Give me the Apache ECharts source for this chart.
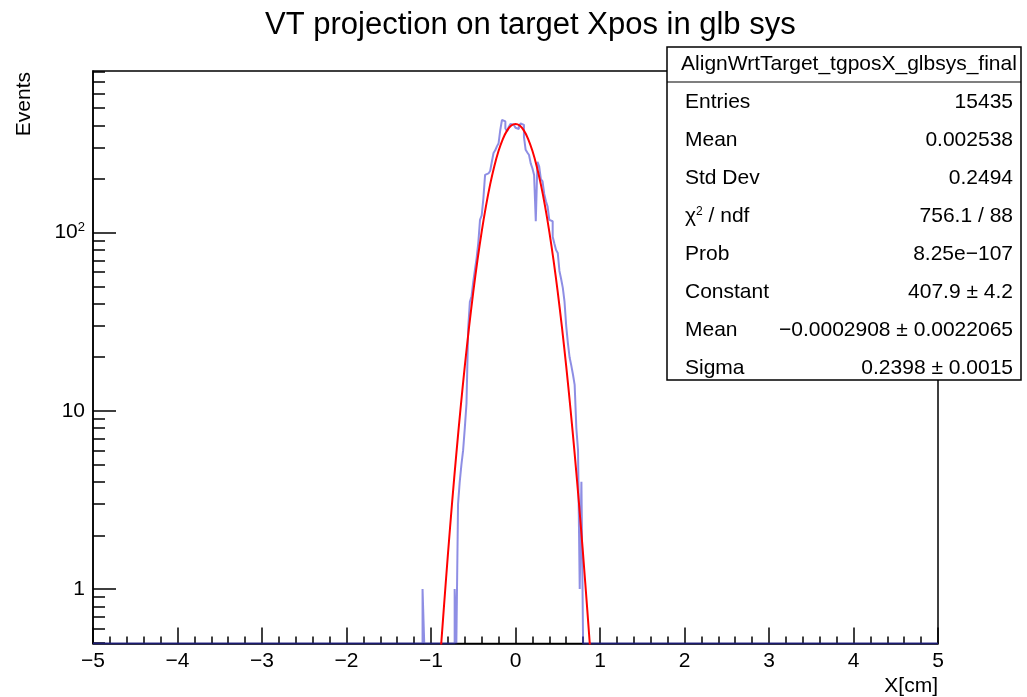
<!DOCTYPE html>
<html>
<head>
<meta charset="utf-8">
<script src="https://cdn.jsdelivr.net/npm/echarts@6/dist/echarts.min.js"></script>
<style>
  html, body { margin: 0; padding: 0; background: #fff; }
  #chart { width: 1027px; height: 697px; }
</style>
</head>
<body>
<div id="chart"></div>
<script>
// histogram: bins of 0.02 starting at -1.10
const binStart = -1.10;
const binWidth = 0.02;
const counts = [
    1, 0, 0, 0, 0, 0, 0, 0, 0, 0, 0, 0, 0, 0, 0, 0, 0, 0, 0,
    1, 0, 3, 4, 5, 6, 8, 11, 29, 41, 44, 53, 62, 72, 88, 118, 125, 156,
    211, 215, 218, 222, 250, 280, 290, 305, 318, 377, 430, 421, 385, 370,
    392, 408, 403, 398, 388, 382, 395, 410, 403, 345, 292, 282, 273, 245,
    230, 211, 116, 250, 236, 200, 194, 165, 150, 140, 118, 116, 95, 87,
    80, 77, 61, 55, 49, 41, 30, 24, 20, 18, 16, 14, 8, 6, 1, 4
];

// gaussian fit curve
const fitX = [
    -0.90, -0.85, -0.80, -0.75, -0.70, -0.65, -0.60, -0.55, -0.50, -0.45,
    -0.40, -0.35, -0.30, -0.25, -0.20, -0.15, -0.10, -0.05, 0.00, 0.05,
    0.10, 0.15, 0.20, 0.25, 0.30, 0.35, 0.40, 0.45, 0.50, 0.55,
    0.60, 0.65, 0.70, 0.75, 0.80, 0.85, 0.90
];
const fitY = [
    0.36, 0.76, 1.56, 3.07, 5.76, 10.35, 17.83, 29.4, 46.4, 70.1,
    101.5, 140.6, 186.6, 237.0, 288.1, 335.5, 374.0, 399.2, 407.9, 399.2,
    374.0, 335.5, 288.1, 237.0, 186.6, 140.6, 101.5, 70.1, 46.4, 29.4,
    17.83, 10.35, 5.76, 3.07, 1.56, 0.76, 0.36
];

const xMin = -5, xMax = 5;
const yMin = 0.495, yMax = 808;
const yMajor = [1, 10, 100];
const yMinor = [0.5, 0.6, 0.7, 0.8, 0.9, 2, 3, 4, 5, 6, 7, 8, 9,
    20, 30, 40, 50, 60, 70, 80, 90, 200, 300, 400, 500, 600, 700, 800];

const statsTitle = "AlignWrtTarget_tgposX_glbsys_final";
const statsLabels = ["Entries", "Mean", "Std Dev", "χ{sup|2} / ndf", "Prob", "Constant", "Mean", "Sigma"];
const statsValues = ["15435", "0.002538", "0.2494", "756.1 / 88", "8.25e\u2212107",
    "407.9 \u00b1 4.2", "\u22120.0002908 \u00b1 0.0022065", "0.2398 \u00b1 0.0015"];

// step outline of the histogram, empty bins sit on the floor of the log axis
const outline = [[xMin, yMin]];
counts.forEach((c, i) => {
    const lo = +(binStart + i * binWidth).toFixed(4);
    const hi = +(lo + binWidth).toFixed(4);
    const v = c > 0 ? c : yMin;
    if (i === 0) outline.push([lo, yMin]);
    outline.push([lo, v], [hi, v]);
    if (i === counts.length - 1) outline.push([hi, yMin]);
});
outline.push([xMax, yMin]);

const fitData = fitX.map((x, i) => [x, fitY[i]]);

const font = "Liberation Sans, Arial, Helvetica, sans-serif";
const minus = s => String(s).replace('-', '\u2212');

const chart = echarts.init(document.getElementById("chart"), null, { renderer: "canvas" });

const statsGraphics = [];
const boxL = 667, boxR = 1021, boxT = 47, boxB = 380;
statsGraphics.push({
    type: "rect", z: 100,
    shape: { x: boxL, y: boxT, width: boxR - boxL, height: boxB - boxT },
    style: { fill: "#fff", stroke: "#000", lineWidth: 1.5 }
});
statsGraphics.push({
    type: "line", z: 101,
    shape: { x1: boxL, y1: 82, x2: boxR, y2: 82 },
    style: { stroke: "#000", lineWidth: 1.2 }
});
statsGraphics.push({
    type: "text", z: 101, x: 849, y: 64,
    style: { text: statsTitle, font: "21px " + font, fill: "#000", align: "center", verticalAlign: "middle" }
});
statsLabels.forEach((lab, i) => {
    const y = 102 + i * 38.1;
    statsGraphics.push({
        type: "text", z: 101, x: 685, y: y,
        style: {
            text: lab, fontSize: 21, fontFamily: font, fill: "#000", align: "left", verticalAlign: "middle",
            rich: { sup: { fontSize: 12, fontFamily: font, padding: [0, 0, 10, 0] } }
        }
    });
    statsGraphics.push({
        type: "text", z: 101, x: 1013, y: y,
        style: { text: statsValues[i], fontSize: 21, fontFamily: font, fill: "#000", align: "right", verticalAlign: "middle" }
    });
});

chart.setOption({
    backgroundColor: "#fff",
    animation: false,
    title: {
        text: "VT projection on target Xpos in glb sys",
        left: 260,
        top: 5,
        textStyle: { fontFamily: font, fontSize: 31, fontWeight: "normal", color: "#000" }
    },
    grid: {
        left: 93, right: 89, top: 71, bottom: 53.5,
        show: true, borderColor: "#000", borderWidth: 1.5, backgroundColor: "transparent"
    },
    xAxis: [
        {
            type: "value", min: xMin, max: xMax, interval: 1,
            axisLine: { onZero: false, lineStyle: { color: "#000", width: 1.5 } },
            axisTick: { inside: true, length: 16, lineStyle: { color: "#000", width: 1.5 } },
            axisLabel: { fontFamily: font, fontSize: 21, color: "#000", margin: 7, formatter: minus },
            splitLine: { show: false }
        },
        {
            type: "value", min: xMin, max: xMax, interval: 0.2, position: "bottom",
            axisLine: { show: false, onZero: false },
            axisTick: { inside: true, length: 7, lineStyle: { color: "#000", width: 1.5 } },
            axisLabel: { show: false },
            splitLine: { show: false }
        }
    ],
    yAxis: [
        {
            type: "log", logBase: 10, min: yMin, max: yMax,
            axisLine: { show: true, onZero: false, lineStyle: { color: "#000", width: 1.5 } },
            axisTick: { inside: true, length: 23, customValues: yMajor, lineStyle: { color: "#000", width: 1.5 } },
            axisLabel: {
                customValues: yMajor, fontFamily: font, fontSize: 21, color: "#000", margin: 8,
                formatter: v => (v === 100 ? "10{sup|2}" : String(v)),
                rich: { sup: { fontSize: 13, fontFamily: font, color: "#000", padding: [0, 0, 10, 0] } }
            },
            splitLine: { show: false }
        },
        {
            type: "log", logBase: 10, min: yMin, max: yMax, position: "left",
            axisLine: { show: false, onZero: false },
            axisTick: { inside: true, length: 12, customValues: yMinor, lineStyle: { color: "#000", width: 1.5 } },
            axisLabel: { show: false },
            splitLine: { show: false }
        }
    ],
    graphic: [
        {
            type: "text", x: 24, y: 72, rotation: Math.PI / 2,
            style: { text: "Events", fontSize: 21, fontFamily: font, fill: "#000", align: "right", verticalAlign: "middle" }
        },
        {
            type: "text", x: 938, y: 686,
            style: { text: "X[cm]", fontSize: 21, fontFamily: font, fill: "#000", align: "right", verticalAlign: "middle" }
        }
    ].concat(statsGraphics),
    series: [
        {
            name: "AlignWrtTarget_tgposX_glbsys_final",
            type: "line",
            data: outline,
            showSymbol: false,
            clip: true,
            lineStyle: { color: "rgba(50,50,205,0.55)", width: 2 },
            z: 2
        },
        {
            name: "gaus fit",
            type: "line",
            data: fitData,
            smooth: 0.3,
            showSymbol: false,
            clip: true,
            lineStyle: { color: "#ff0000", width: 2 },
            z: 3
        }
    ]
});
</script>
</body>
</html>
